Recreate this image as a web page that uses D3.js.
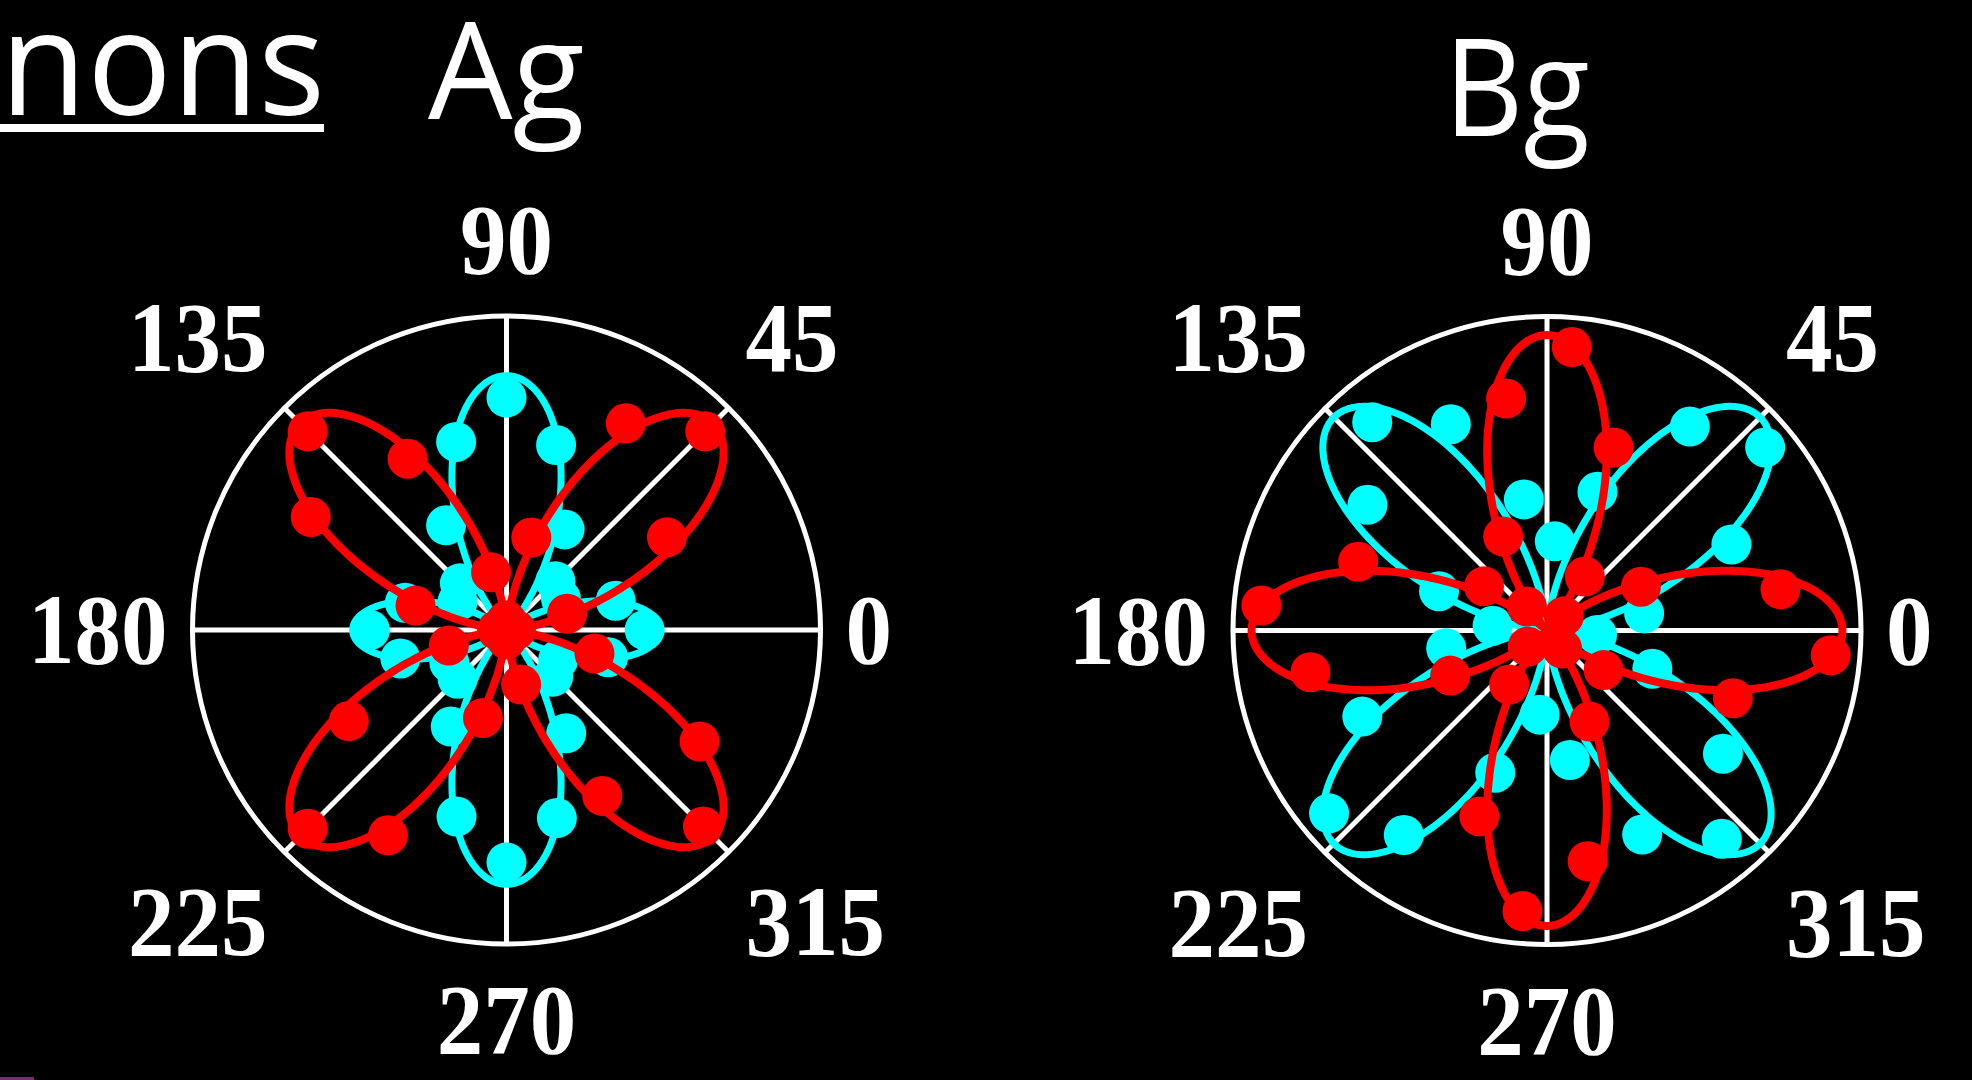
<!DOCTYPE html>
<html>
<head>
<meta charset="utf-8">
<script src="https://cdn.jsdelivr.net/npm/d3@7"></script>
<style>
  /* Open Sans glyphs with tighter vertical metrics for the large headings */
  @font-face {
    font-family: "HeadingSans";
    src: local("Open Sans"), local("Open Sans Regular"), local("OpenSans-Regular");
    ascent-override: 76%;
    descent-override: 26%;
    line-gap-override: 0%;
  }
  html, body { margin: 0; padding: 0; background: #000; overflow: hidden; }
  svg { display: block; }
</style>
</head>
<body>
<svg id="chart" width="1972" height="1080"></svg>
<script>
// ---- Data -----------------------------------------------------------------
// Polarisation angles (deg) at which each mode was measured
const agAngles = [0, 15, 30, 45, 60, 75, 90, 105, 120, 135, 150, 165,
                  180, 195, 210, 225, 240, 255, 270, 285, 300, 315, 330, 345];
const bgAngles = [10, 25, 40, 55, 70, 85, 100, 115, 130, 145, 160, 175,
                  190, 205, 220, 235, 250, 265, 280, 295, 310, 325, 340, 355];

// Normalised Raman intensity, Ag mode (cyan = parallel, red = crossed)
const agCyan = [0.44, 0.36, 0.20, 0.22, 0.37, 0.61, 0.74, 0.62, 0.385, 0.21, 0.18, 0.335,
                0.435, 0.35, 0.21, 0.22, 0.355, 0.615, 0.74, 0.62, 0.38, 0.21, 0.19, 0.335];
const agRed  = [0.03, 0.20, 0.59, 0.895, 0.76, 0.305, 0.03, 0.19, 0.63, 0.895, 0.72, 0.30,
                0.03, 0.19, 0.58, 0.895, 0.755, 0.29, 0.03, 0.18, 0.61, 0.885, 0.71, 0.29];

// Normalised Raman intensity, Bg mode
const bgCyan = [0.314, 0.648, 0.907, 0.793, 0.47, 0.285, 0.424, 0.725, 0.866, 0.698, 0.366, 0.174,
                0.326, 0.649, 0.906, 0.795, 0.482, 0.269, 0.419, 0.717, 0.866, 0.684, 0.357, 0.16];
const bgRed  = [0.755, 0.33, 0.07, 0.21, 0.62, 0.906, 0.75, 0.33, 0.10, 0.245, 0.64, 0.913,
                0.765, 0.34, 0.08, 0.21, 0.63, 0.897, 0.746, 0.32, 0.075, 0.22, 0.63, 0.907];

// Fitted Raman-tensor coefficients for the solid curves:
// I(theta) = (a cos^2 theta + b sin^2 theta)^2 + c sin^2(2 theta)
const fitA = { agCyan: 0.70, agRed: 0, bgCyan: 0, bgRed: 0.97 };
const fitB = { agCyan: -0.90, agRed: 0, bgCyan: 0, bgRed: -0.97 };
const fitC = { agCyan: 0, agRed: 0.93, bgCyan: 0.96, bgRed: 0 };

// Angular tick labels
const angleTicks = [0, 45, 90, 135, 180, 225, 270, 315];
const panelTitles = ["Ag", "Bg"];
const sectionTitle = "nons";

// ---- Drawing --------------------------------------------------------------
const W = 1972, H = 1080;
const svg = d3.select("#chart");
svg.append("rect").attr("width", W).attr("height", H).attr("fill", "#000");

const R = 314;
const rScale = d3.scaleLinear().domain([0, 1]).range([0, R]);
// polar angle (deg, counter-clockwise from +x) -> d3 radial angle (rad, clockwise from top)
const aScale = d3.scaleLinear().domain([0, 360]).range([Math.PI / 2, Math.PI / 2 - 2 * Math.PI]);

const COLORS = { cyan: "#00ffff", red: "#ff0000" };

function model(key) {
  const a = fitA[key], b = fitB[key], c = fitC[key];
  return deg => {
    const t = deg * Math.PI / 180;
    const cs = Math.cos(t) ** 2, sn = Math.sin(t) ** 2;
    return (a * cs + b * sn) ** 2 + c * Math.sin(2 * t) ** 2;
  };
}

const curveSamples = d3.range(0, 360.25, 0.5);

const panels = [
  { title: panelTitles[0], cx: 506.5, cy: 630,
    series: [
      { key: "agCyan", angles: agAngles, values: agCyan, color: COLORS.cyan, width: 7 },
      { key: "agRed",  angles: agAngles, values: agRed,  color: COLORS.red,  width: 8 }
    ] },
  { title: panelTitles[1], cx: 1547, cy: 630.5,
    series: [
      { key: "bgCyan", angles: bgAngles, values: bgCyan, color: COLORS.cyan, width: 7 },
      { key: "bgRed",  angles: bgAngles, values: bgRed,  color: COLORS.red,  width: 8 }
    ] }
];

// ---- Titles ---------------------------------------------------------------
const titleFont = "'HeadingSans', 'Open Sans', 'Lato', sans-serif";

svg.append("text")
  .attr("x", 0).attr("y", 115)
  .attr("font-family", titleFont).attr("font-size", 146)
  .attr("textLength", 326).attr("lengthAdjust", "spacingAndGlyphs")
  .attr("fill", "#fff")
  .text(sectionTitle);
svg.append("rect")
  .attr("x", 0).attr("y", 124).attr("width", 324).attr("height", 8)
  .attr("fill", "#fff");

svg.append("text")
  .attr("x", 428).attr("y", 119)
  .attr("font-family", titleFont).attr("font-size", 136)
  .attr("textLength", 158).attr("lengthAdjust", "spacingAndGlyphs")
  .attr("fill", "#fff")
  .text(panels[0].title);

svg.append("text")
  .attr("x", 1444).attr("y", 136)
  .attr("font-family", titleFont).attr("font-size", 136)
  .attr("textLength", 147).attr("lengthAdjust", "spacingAndGlyphs")
  .attr("fill", "#fff")
  .text(panels[1].title);

// ---- Polar panels ---------------------------------------------------------
const labelFont = "'Liberation Serif', 'Times New Roman', serif";
const digitH = 66;      // rendered digit height
const digitW = 46.5;    // advance per digit

panels.forEach(p => {
  const g = svg.append("g").attr("transform", `translate(${p.cx},${p.cy})`);

  // outer ring
  g.append("circle").attr("r", rScale(1))
    .attr("fill", "none").attr("stroke", "#fff").attr("stroke-width", 5);

  // spokes
  g.selectAll("line.spoke").data(angleTicks).join("line")
    .attr("class", "spoke")
    .attr("x1", 0).attr("y1", 0)
    .attr("x2", d => d3.pointRadial(aScale(d), rScale(1))[0])
    .attr("y2", d => d3.pointRadial(aScale(d), rScale(1))[1])
    .attr("stroke", "#fff").attr("stroke-width", 5);

  // angle labels
  g.selectAll("text.tick").data(angleTicks).join("text")
    .attr("class", "tick")
    .attr("font-family", labelFont).attr("font-weight", "bold")
    .attr("font-size", 99).attr("fill", "#fff")
    .attr("textLength", d => String(d).length * digitW)
    .attr("lengthAdjust", "spacingAndGlyphs")
    .attr("text-anchor", d => {
      const c = Math.cos(d * Math.PI / 180);
      return c > 0.1 ? "start" : c < -0.1 ? "end" : "middle";
    })
    .attr("x", d => {
      const c = Math.cos(d * Math.PI / 180);
      if (Math.abs(c) < 0.1) return 0;
      const base = Math.abs(c) > 0.9 ? rScale(1) + 25 : rScale(1) * Math.SQRT1_2 + 17;
      return Math.sign(c) * base;
    })
    .attr("y", d => {
      const s = Math.sin(d * Math.PI / 180);
      if (Math.abs(s) < 0.1) return digitH / 2;
      const base = Math.abs(s) > 0.9 ? rScale(1) + 43 : rScale(1) * Math.SQRT1_2 + 37;
      return s > 0 ? -base : base + digitH;
    })
    .text(d => d);

  // fitted curves, then measured points; red drawn over cyan
  p.series.forEach(s => {
    const f = model(s.key);
    const line = d3.lineRadial()
      .angle(d => aScale(d))
      .radius(d => rScale(f(d)))
      .curve(d3.curveLinearClosed);

    g.append("path")
      .datum(curveSamples)
      .attr("d", line)
      .attr("fill", "none")
      .attr("stroke", s.color)
      .attr("stroke-width", s.width)
      .attr("stroke-linejoin", "round");

    g.selectAll(null).data(s.angles.map((a, i) => ({ a, v: s.values[i] }))).join("circle")
      .attr("cx", d => d3.pointRadial(aScale(d.a), rScale(d.v))[0])
      .attr("cy", d => d3.pointRadial(aScale(d.a), rScale(d.v))[1])
      .attr("r", 20)
      .attr("fill", s.color);
  });
});

// slide footer accent
svg.append("rect")
  .attr("x", 0).attr("y", 1077).attr("width", 34).attr("height", 3)
  .attr("fill", "#7d2a6f");
</script>
</body>
</html>
